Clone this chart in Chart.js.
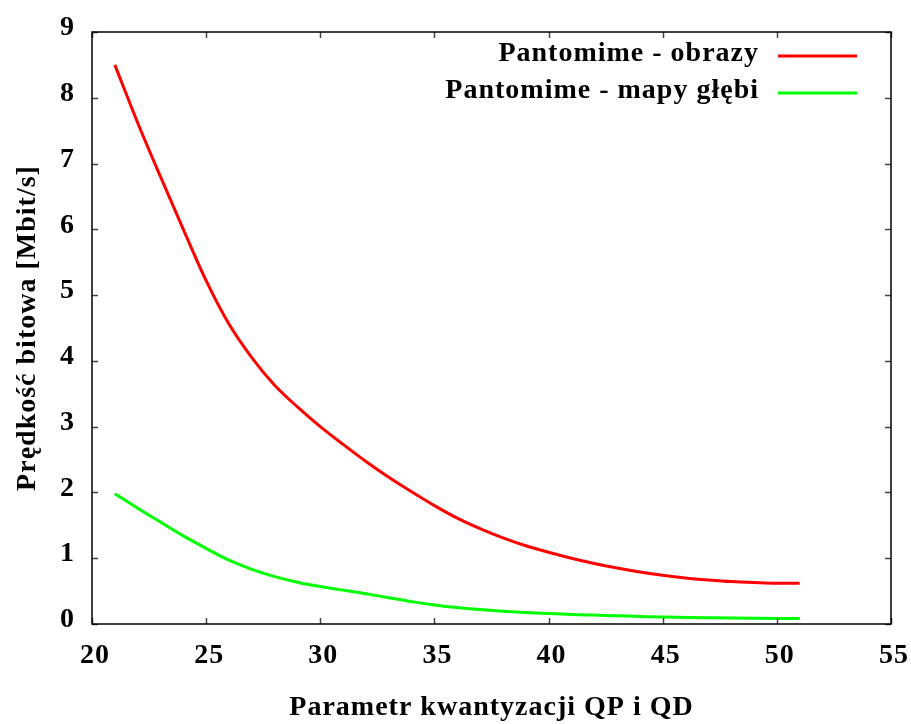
<!DOCTYPE html>
<html>
<head>
<meta charset="utf-8">
<script src="https://cdn.jsdelivr.net/npm/chart.js@4/dist/chart.umd.min.js"></script>
<style>
html,body{margin:0;padding:0;background:#fff;}
#wrap{width:911px;height:724px;position:relative;}
</style>
</head>
<body>
<div id="wrap"><canvas id="c" width="911" height="724"></canvas></div>
<script>
const qp = [21,22,23,24,25,26,27,28,29,30,31,32,33,34,35,36,37,38,39,40,41,42,43,44,45,46,47,48,49,50,51];
const obrazy = [8.5,7.62,6.8,6.0,5.22,4.56,4.05,3.63,3.3,3.0,2.73,2.47,2.23,2.01,1.8,1.61,1.45,1.31,1.19,1.09,1.0,0.92,0.85,0.79,0.74,0.7,0.67,0.645,0.63,0.62,0.62];
const mapyGlebi = [1.98,1.76,1.55,1.34,1.15,0.97,0.83,0.72,0.635,0.57,0.515,0.46,0.4,0.34,0.29,0.25,0.22,0.195,0.175,0.16,0.145,0.135,0.125,0.115,0.105,0.1,0.095,0.09,0.087,0.085,0.085];
const seriesLabels = ['Pantomime - obrazy','Pantomime - mapy głębi'];
const seriesColors = ['#ff0000','#00ff00'];
const xTitle = 'Parametr kwantyzacji QP i QD';
const yTitle = 'Prędkość bitowa [Mbit/s]';

const FONT = "'Liberation Serif','Times New Roman',serif";
const FSIZE = 28;
const SPACING = '1px';

const spacingPlugin = {
  id:'spacing',
  beforeLayout(chart){ chart.ctx.letterSpacing = SPACING; },
  beforeDraw(chart){ chart.ctx.letterSpacing = SPACING; }
};

const framePlugin = {
  id:'frame',
  afterDatasetsDraw(chart){
    const {ctx, chartArea:a, scales} = chart;
    ctx.save();
    ctx.strokeStyle = '#444';
    ctx.lineWidth = 1.5;
    const tl = 6;
    scales.x.ticks.forEach(t=>{
      const px = Math.round(scales.x.getPixelForValue(t.value))+0.5;
      ctx.beginPath();
      ctx.moveTo(px,a.bottom); ctx.lineTo(px,a.bottom-tl);
      ctx.moveTo(px,a.top); ctx.lineTo(px,a.top+tl);
      ctx.stroke();
    });
    scales.y.ticks.forEach(t=>{
      const py = Math.round(scales.y.getPixelForValue(t.value))+0.5;
      ctx.beginPath();
      ctx.moveTo(a.left,py); ctx.lineTo(a.left+tl,py);
      ctx.moveTo(a.right,py); ctx.lineTo(a.right-tl,py);
      ctx.stroke();
    });
    ctx.strokeStyle = '#000';
    ctx.lineWidth = 1.5;
    ctx.strokeRect(a.left, a.top, a.right-a.left, a.bottom-a.top);
    // legend
    ctx.letterSpacing = SPACING;
    ctx.font = "bold " + FSIZE + "px " + FONT;
    ctx.textAlign = 'right';
    ctx.textBaseline = 'middle';
    chart.data.datasets.forEach((ds,i)=>{
      const y = 56 + i*37;
      ctx.fillStyle = '#000';
      ctx.fillText(ds.label, 759, y-2);
      ctx.strokeStyle = ds.borderColor;
      ctx.lineWidth = 3;
      ctx.beginPath();
      ctx.moveTo(778,y); ctx.lineTo(857,y);
      ctx.stroke();
    });
    ctx.restore();
  }
};

const tickFont = {family:FONT, size:FSIZE, weight:'bold'};

new Chart(document.getElementById('c'), {
  type:'line',
  data:{
    datasets:[
      {label:seriesLabels[0], data:qp.map((x,i)=>({x:x,y:obrazy[i]})), borderColor:seriesColors[0], borderWidth:3, pointRadius:0, cubicInterpolationMode:'monotone', fill:false},
      {label:seriesLabels[1], data:qp.map((x,i)=>({x:x,y:mapyGlebi[i]})), borderColor:seriesColors[1], borderWidth:3, pointRadius:0, cubicInterpolationMode:'monotone', fill:false}
    ]
  },
  options:{
    responsive:false,
    animation:false,
    layout:{padding:{left:0,right:20,top:32,bottom:0}},
    plugins:{legend:{display:false}, tooltip:{enabled:false}},
    scales:{
      x:{
        type:'linear', min:20, max:55,
        ticks:{stepSize:5, color:'#000', font:tickFont, padding:15, maxRotation:0, labelOffset:3},
        grid:{display:false, drawTicks:false},
        border:{display:false},
        title:{display:true, text:xTitle, color:'#000', font:tickFont, padding:{top:0,bottom:-1}},
        afterFit(s){ s.height = 100; s.paddingLeft = 0; s.paddingRight = 0; }
      },
      y:{
        type:'linear', min:0, max:9,
        ticks:{stepSize:1, color:'#000', font:tickFont, padding:17, labelOffset:-4},
        grid:{display:false, drawTicks:false},
        border:{display:false},
        title:{display:true, text:yTitle, color:'#000', font:tickFont, padding:{top:11,bottom:0}},
        afterFit(s){ s.width = 92; s.paddingTop = 0; s.paddingBottom = 0; }
      }
    }
  },
  plugins:[spacingPlugin, framePlugin]
});
</script>
</body>
</html>
